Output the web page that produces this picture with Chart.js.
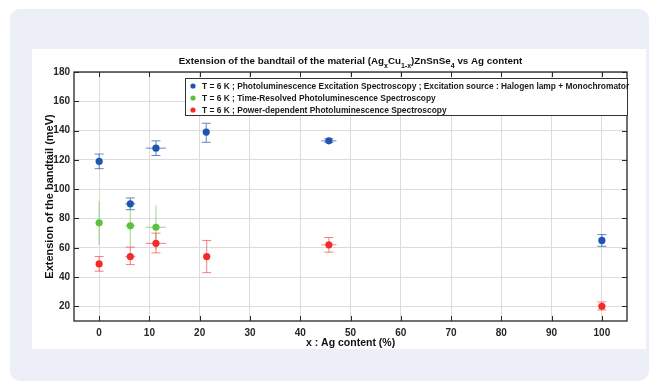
<!DOCTYPE html>
<html>
<head>
<meta charset="utf-8">
<script src="https://cdn.jsdelivr.net/npm/chart.js@4.4.1/dist/chart.umd.min.js"></script>
<style>
  body { margin: 0; background: #fff; font-family: "Liberation Sans", Arial, sans-serif; }
  #panel { position: absolute; left: 10px; top: 9px; width: 639px; height: 372px; background: #eceef8; border-radius: 10px; }
  #chart { position: absolute; left: 32px; top: 49px; background: #fff; }
</style>
</head>
<body>
<div id="panel"></div>
<canvas id="chart" width="614" height="300"></canvas>
<script>
// series values
const pleX = [0, 6.2, 11.3, 21.3, 45.7, 100];
const pleY = [119, 90, 128, 139, 133, 65];
const pleLow = [114, 86, 123, 132, 132, 61];
const pleHigh = [124, 94, 133, 145, 134.5, 69];
const pleXErr = [0, 1, 2, 0, 1.5, 0];

const trplX = [0, 6.2, 11.3];
const trplY = [77, 75, 74];
const trplLow = [62, 61, 59];
const trplHigh = [92, 90, 89];
const trplXErr = [0, 1, 2];

const pdplX = [0, 6.2, 11.3, 21.4, 45.7, 100];
const pdplY = [49, 54, 63, 54, 62, 20];
const pdplLow = [44, 48.5, 56.5, 43, 57, 17.5];
const pdplHigh = [54, 60.5, 70, 65, 67, 23];
const pdplXErr = [0, 1, 2, 0, 1.5, 0];

const seriesLabels = [
  "T = 6 K ; Photoluminescence Excitation Spectroscopy ; Excitation source : Halogen lamp + Monochromator",
  "T = 6 K ; Time-Resolved Photoluminescence Spectroscopy",
  "T = 6 K ; Power-dependent Photoluminescence Spectroscopy"
];
const xTicks = [0, 10, 20, 30, 40, 50, 60, 70, 80, 90, 100];
const yTicks = [20, 40, 60, 80, 100, 120, 140, 160, 180];

const FONT = "'Liberation Sans', Arial, sans-serif";

function points(xs, ys) {
  return xs.map((x, i) => ({ x: x, y: ys[i] }));
}

function makeSet(label, xs, ys, low, high, xerr, color, errColor, caps) {
  return {
    label: label,
    data: points(xs, ys),
    errLow: low,
    errHigh: high,
    errX: xerr,
    errColor: errColor,
    caps: caps,
    backgroundColor: color,
    borderColor: color,
    pointRadius: 3.6,
    pointHoverRadius: 3.6,
    borderWidth: 0
  };
}

// error bars, drawn through the chart scales
const errorBars = {
  id: "errorBars",
  beforeDatasetsDraw(chart) {
    const ctx = chart.ctx;
    const xs = chart.scales.x, ys = chart.scales.y;
    chart.data.datasets.forEach(ds => {
      ctx.save();
      ctx.strokeStyle = ds.errColor;
      ctx.lineWidth = 1;
      ds.data.forEach((p, i) => {
        const px = xs.getPixelForValue(p.x);
        const py = ys.getPixelForValue(p.y);
        const top = ys.getPixelForValue(ds.errHigh[i]);
        const bot = ys.getPixelForValue(ds.errLow[i]);
        ctx.beginPath();
        ctx.moveTo(px, top); ctx.lineTo(px, bot);
        if (ds.caps) {
          ctx.moveTo(px - 4.5, top); ctx.lineTo(px + 4.5, top);
          ctx.moveTo(px - 4.5, bot); ctx.lineTo(px + 4.5, bot);
        }
        if (ds.errX[i] > 0) {
          const l = xs.getPixelForValue(p.x - ds.errX[i]);
          const r = xs.getPixelForValue(p.x + ds.errX[i]);
          ctx.moveTo(l, py); ctx.lineTo(r, py);
        }
        ctx.stroke();
      });
      ctx.restore();
    });
  }
};

// box around the axes with inward ticks, title and legend
const decorations = {
  id: "decorations",
  afterDraw(chart) {
    const ctx = chart.ctx;
    const a = chart.chartArea;
    const xs = chart.scales.x, ys = chart.scales.y;
    ctx.save();
    ctx.strokeStyle = "#262626";
    ctx.lineWidth = 1.3;
    ctx.strokeRect(a.left, a.top, a.right - a.left, a.bottom - a.top);
    ctx.lineWidth = 1;
    ctx.beginPath();
    xTicks.forEach(v => {
      const px = Math.round(xs.getPixelForValue(v)) + 0.5;
      ctx.moveTo(px, a.bottom); ctx.lineTo(px, a.bottom - 5);
      ctx.moveTo(px, a.top); ctx.lineTo(px, a.top + 5);
    });
    yTicks.forEach(v => {
      const py = Math.round(ys.getPixelForValue(v)) + 0.5;
      ctx.moveTo(a.left, py); ctx.lineTo(a.left + 5, py);
      ctx.moveTo(a.right, py); ctx.lineTo(a.right - 5, py);
    });
    ctx.stroke();

    // title with subscripts
    const parts = [
      ["Extension of the bandtail of the material (Ag", 0],
      ["x", 1], ["Cu", 0], ["1-x", 1], [")ZnSnSe", 0], ["4", 1], [" vs Ag content", 0]
    ];
    const big = "bold 9.8px " + FONT, small = "bold 7px " + FONT;
    let total = 0;
    parts.forEach(p => { ctx.font = p[1] ? small : big; total += ctx.measureText(p[0]).width; });
    let tx = (a.left + a.right) / 2 - total / 2;
    ctx.fillStyle = "#111";
    ctx.textBaseline = "alphabetic";
    ctx.textAlign = "left";
    parts.forEach(p => {
      ctx.font = p[1] ? small : big;
      ctx.fillText(p[0], tx, p[1] ? 18.5 : 15);
      tx += ctx.measureText(p[0]).width;
    });

    // legend box inside the axes
    const lx = 153, ly = 29, lw = a.right - 153, lh = 37;
    ctx.fillStyle = "#fff";
    ctx.fillRect(lx, ly, lw, lh);
    ctx.strokeStyle = "#333";
    ctx.lineWidth = 1;
    ctx.strokeRect(lx + 0.5, ly + 0.5, lw, lh);
    ctx.font = "bold 8.4px " + FONT;
    ctx.textBaseline = "middle";
    chart.data.datasets.forEach((ds, i) => {
      const cy = ly + 8 + i * 12;
      ctx.fillStyle = ds.backgroundColor;
      ctx.beginPath();
      ctx.arc(lx + 8, cy, 2.6, 0, Math.PI * 2);
      ctx.fill();
      ctx.fillStyle = "#1a1a1a";
      ctx.fillText(ds.label, lx + 17, cy + 0.5);
    });
    ctx.restore();
  }
};

new Chart(document.getElementById("chart"), {
  type: "scatter",
  data: {
    datasets: [
      makeSet(seriesLabels[0], pleX, pleY, pleLow, pleHigh, pleXErr, "#1f55b0", "rgba(31,85,176,0.7)", true),
      makeSet(seriesLabels[1], trplX, trplY, trplLow, trplHigh, trplXErr, "#5cbf3d", "rgba(92,191,61,0.6)", false),
      makeSet(seriesLabels[2], pdplX, pdplY, pdplLow, pdplHigh, pdplXErr, "#f22c2c", "rgba(242,44,44,0.6)", true)
    ]
  },
  options: {
    responsive: false,
    animation: false,
    layout: { padding: { top: 23, right: 19, left: 0, bottom: 0 } },
    plugins: {
      legend: { display: false },
      tooltip: { enabled: false }
    },
    scales: {
      x: {
        type: "linear",
        min: -5,
        max: 105,
        afterBuildTicks: s => { s.ticks = xTicks.map(v => ({ value: v })); },
        afterFit: s => { s.height = 28; },
        grid: { color: "#dcdcdc", drawTicks: false },
        border: { display: false },
        ticks: { padding: 6, color: "#262626", font: { family: FONT, size: 10, weight: "bold" } },
        title: {
          display: true,
          text: "x : Ag content (%)",
          color: "#111",
          padding: { top: 0, bottom: 0 },
          font: { family: FONT, size: 10.5, weight: "bold" }
        }
      },
      y: {
        type: "linear",
        min: 10,
        max: 180,
        afterBuildTicks: s => { s.ticks = yTicks.map(v => ({ value: v })); },
        afterFit: s => { s.width = 42; },
        grid: { color: "#dcdcdc", drawTicks: false },
        border: { display: false },
        ticks: { padding: 4, color: "#262626", font: { family: FONT, size: 10, weight: "bold" } },
        title: {
          display: true,
          text: "Extension of the bandtail (meV)",
          color: "#111",
          padding: { top: 11, bottom: 0 },
          font: { family: FONT, size: 11, weight: "bold" }
        }
      }
    }
  },
  plugins: [errorBars, decorations]
});
</script>
</body>
</html>
